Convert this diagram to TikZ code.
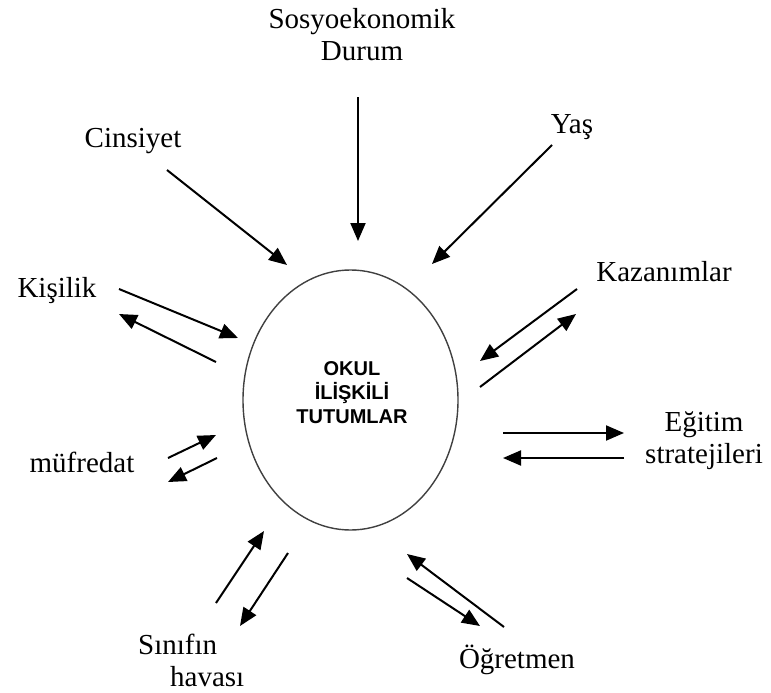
\documentclass[tikz,border=0pt]{standalone}
\usepackage{fontspec}
\setmainfont{Liberation Serif}
\newfontfamily\boxfont{Liberation Sans}
\usetikzlibrary{arrows.meta}
\tikzset{
  lbl/.style={inner sep=0pt, anchor=base, font=\fontsize{29}{32}\selectfont, text=black},
  arr/.style={line width=2pt, -{Triangle[length=18pt,width=15pt]}},
  oval/.style={draw=black!75, line width=1.4pt}
}
\begin{document}
\begin{tikzpicture}[x=1pt,y=-1pt]
\useasboundingbox (0,0) rectangle (771,693);
% centre
\draw[oval] (350.5,400) ellipse [x radius=107.5, y radius=130];
\node[inner sep=0pt, anchor=base, align=center, font=\boxfont\bfseries\fontsize{20}{24}\selectfont] (center) at (352,423) {OKUL\\İLİŞKİLİ\\TUTUMLAR};
% labels
\node[lbl, align=center] (sos) at (362,60) {Sosyoekonomik\\Durum};
\node[lbl] (cins) at (133,147) {Cinsiyet};
\node[lbl] (yas) at (572,133) {Yaş};
\node[lbl] (kaz) at (664,281) {Kazanımlar};
\node[lbl] (kis) at (57,297) {Kişilik};
\node[lbl] (muf) at (82,472) {müfredat};
\node[lbl, align=center] (egt) at (704,463) {Eğitim\\stratejileri};
\node[lbl] (ogr) at (517,668) {Öğretmen};
\node[lbl, align=left, anchor=base west] (sin) at (138,686) {Sınıfın\\\hspace*{32pt}havası};
% coordinates
\coordinate (s1) at (358,97);   \coordinate (s2) at (358,241);
\coordinate (c1) at (167,170);  \coordinate (c2) at (287,265);
\coordinate (y1) at (552,145);  \coordinate (y2) at (432,264);
\coordinate (k1) at (577,289);  \coordinate (k2) at (480,361);
\coordinate (k3) at (480,387);  \coordinate (k4) at (576,314);
\coordinate (p1) at (119,289);  \coordinate (p2) at (238,338);
\coordinate (p3) at (216,362);  \coordinate (p4) at (119,314);
\coordinate (m1) at (168,458);  \coordinate (m2) at (216,435);
\coordinate (m3) at (217,458);  \coordinate (m4) at (168,482);
\coordinate (e1) at (503,433);  \coordinate (e2) at (624,433);
\coordinate (e3) at (624,458);  \coordinate (e4) at (503,458);
\coordinate (o1) at (504,627);  \coordinate (o2) at (407,554);
\coordinate (o3) at (407,578);  \coordinate (o4) at (480,626);
\coordinate (h1) at (216,603);  \coordinate (h2) at (264,531);
\coordinate (h3) at (288,553);  \coordinate (h4) at (240,626);
% arrows
\draw[arr] (s1) -- (s2);
\draw[arr] (c1) -- (c2);
\draw[arr] (y1) -- (y2);
\draw[arr] (k1) -- (k2);
\draw[arr] (k3) -- (k4);
\draw[arr] (p1) -- (p2);
\draw[arr] (p3) -- (p4);
\draw[arr] (m1) -- (m2);
\draw[arr] (m3) -- (m4);
\draw[arr] (e1) -- (e2);
\draw[arr] (e3) -- (e4);
\draw[arr] (o1) -- (o2);
\draw[arr] (o3) -- (o4);
\draw[arr] (h1) -- (h2);
\draw[arr] (h3) -- (h4);
\end{tikzpicture}
\end{document}
